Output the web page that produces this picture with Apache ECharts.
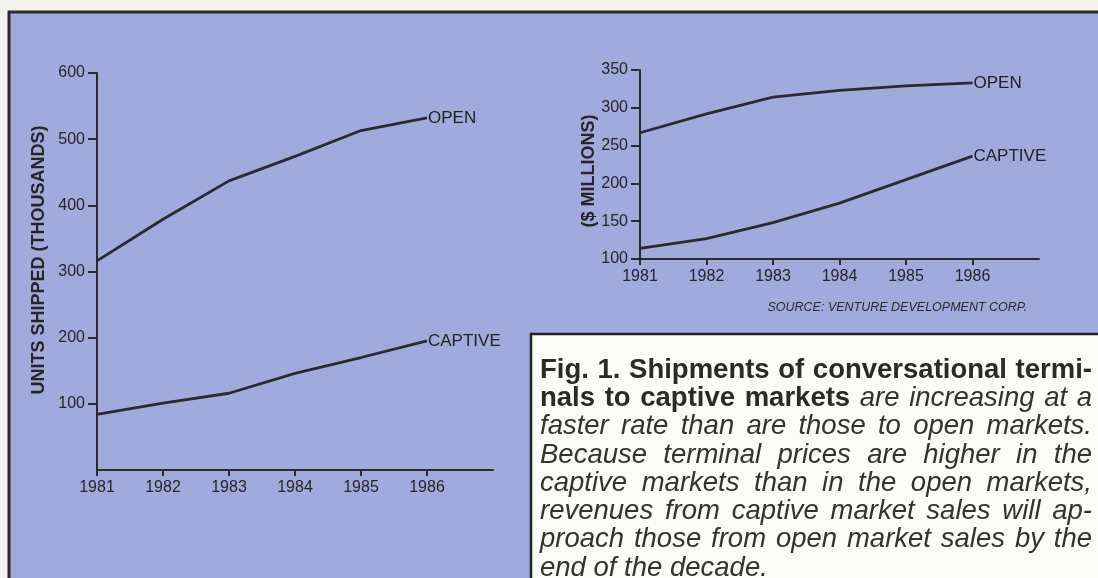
<!DOCTYPE html>
<html>
<head>
<meta charset="utf-8">
<title>Conversational terminals: shipments and revenues</title>
<script src="https://cdn.jsdelivr.net/npm/echarts@6/dist/echarts.min.js"></script>
<style>
  html, body { margin: 0; padding: 0; background: #f3f2ee; }
  #chart { width: 1098px; height: 578px; }
</style>
</head>
<body>
<div id="chart"></div>
<script>
// Years on both horizontal axes
const years = [1981, 1982, 1983, 1984, 1985, 1986];

// Units shipped (thousands)
const unitsOpen = [316, 379, 437, 474, 513, 532];
const unitsCaptive = [84, 101, 116, 146, 170, 195];

// Revenues ($ millions)
const revenueOpen = [267, 292, 314, 323, 329, 333];
const revenueCaptive = [114, 127, 148, 174, 205, 236];

// Tick values
const unitsTicks = [100, 200, 300, 400, 500, 600];
const revenueTicks = [100, 150, 200, 250, 300, 350];

const seriesNames = ['OPEN', 'CAPTIVE'];

const FONT = '"Liberation Sans", Arial, Helvetica, sans-serif';
const INK = '#2b2b2b';
const PANEL = '#a1aadc';

const pairs = (vals) => years.map((y, i) => [y, vals[i]]);

function xAxisFor(gridIndex) {
  return {
    type: 'value', gridIndex, min: 1981, max: 1987, interval: 1,
    axisLine: { lineStyle: { color: INK, width: 2 } },
    axisTick: { customValues: years, length: 6, lineStyle: { color: INK, width: 2 } },
    axisLabel: {
      customValues: years, formatter: (v) => String(v),
      color: '#262626', fontSize: 16, fontFamily: FONT, margin: 10
    },
    splitLine: { show: false }
  };
}

function yAxisFor(gridIndex, min, max, interval, ticks) {
  return {
    type: 'value', gridIndex, min, max, interval,
    axisLine: { show: true, lineStyle: { color: INK, width: 2 } },
    axisTick: { show: true, customValues: ticks, length: 9, lineStyle: { color: INK, width: 2 } },
    axisLabel: {
      customValues: ticks, formatter: (v) => String(v),
      color: '#262626', fontSize: 16, fontFamily: FONT, margin: 12
    },
    splitLine: { show: false }
  };
}

function lineSeries(name, vals, axisIndex) {
  return {
    type: 'line', name, xAxisIndex: axisIndex, yAxisIndex: axisIndex,
    data: pairs(vals), symbol: 'none', silent: true,
    lineStyle: { color: INK, width: 2.8 },
    endLabel: {
      show: true, formatter: name, distance: 1,
      color: '#222222', fontSize: 17, fontFamily: FONT
    }
  };
}

// Caption: justified paragraph laid out word by word
const captionLines = [
  [['b', 'Fig. 1. Shipments of conversational termi-']],
  [['b', 'nals to captive markets'], ['i', 'are increasing at a']],
  [['i', 'faster rate than are those to open markets.']],
  [['i', 'Because terminal prices are higher in the']],
  [['i', 'captive markets than in the open markets,']],
  [['i', 'revenues from captive market sales will ap-']],
  [['i', 'proach those from open market sales by the']],
  [['i', 'end of the decade.']]
];
const CAP_SIZE = 27.5;
const CAP_LEFT = 540, CAP_RIGHT = 1092, CAP_TOP = 370, CAP_LEAD = 28.3;

const measureCtx = document.createElement('canvas').getContext('2d');
function fontOf(kind) {
  return (kind === 'b' ? 'bold ' : 'italic ') + CAP_SIZE + 'px ' + FONT;
}
function textWidth(str, kind) {
  measureCtx.font = fontOf(kind);
  return measureCtx.measureText(str).width;
}

function captionElements() {
  const out = [];
  captionLines.forEach((segs, li) => {
    const words = [];
    segs.forEach(([kind, txt]) => txt.split(' ').forEach(w => words.push({ kind, w })));
    const widths = words.map(o => textWidth(o.w, o.kind));
    const total = widths.reduce((a, b) => a + b, 0);
    const last = li === captionLines.length - 1;
    const gap = last ? textWidth(' ', 'i') : (CAP_RIGHT - CAP_LEFT - total) / (words.length - 1);
    let x = CAP_LEFT;
    const y = CAP_TOP + li * CAP_LEAD;
    words.forEach((o, i) => {
      out.push({
        type: 'text', x, y, z: 20, silent: true,
        style: {
          text: o.w, fill: o.kind === 'b' ? '#2a2a2a' : '#333333',
          fontSize: CAP_SIZE, fontFamily: FONT,
          fontWeight: o.kind === 'b' ? 'bold' : 'normal',
          fontStyle: o.kind === 'b' ? 'normal' : 'italic',
          verticalAlign: 'middle', align: 'left'
        }
      });
      x += widths[i] + gap;
    });
  });
  return out;
}

const chart = echarts.init(document.getElementById('chart'), null, { renderer: 'canvas' });

chart.setOption({
  backgroundColor: '#f3f2ee',
  animation: false,
  grid: [
    { left: 97, top: 73, right: 605, bottom: 108 },
    { left: 640, top: 70, right: 59, bottom: 319 }
  ],
  xAxis: [xAxisFor(0), xAxisFor(1)],
  yAxis: [
    yAxisFor(0, 0, 600, 100, unitsTicks),
    yAxisFor(1, 100, 350, 50, revenueTicks)
  ],
  series: [
    lineSeries(seriesNames[0], unitsOpen, 0),
    lineSeries(seriesNames[1], unitsCaptive, 0),
    lineSeries(seriesNames[0], revenueOpen, 1),
    lineSeries(seriesNames[1], revenueCaptive, 1)
  ],
  graphic: [
    // tinted panel with dark frame
    {
      type: 'rect', z: -10, silent: true,
      shape: { x: 9, y: 12, width: 1100, height: 580 },
      style: { fill: PANEL, stroke: '#2c2c2c', lineWidth: 3 }
    },
    // axis titles
    {
      type: 'text', x: 39, y: 260, rotation: Math.PI / 2, silent: true,
      style: {
        text: 'UNITS SHIPPED (THOUSANDS)', fill: '#262626',
        fontSize: 18, fontWeight: 'bold', fontFamily: FONT,
        align: 'center', verticalAlign: 'middle'
      }
    },
    {
      type: 'text', x: 589, y: 171, rotation: Math.PI / 2, silent: true,
      style: {
        text: '($ MILLIONS)', fill: '#262626',
        fontSize: 18, fontWeight: 'bold', fontFamily: FONT,
        align: 'center', verticalAlign: 'middle'
      }
    },
    // source line
    {
      type: 'text', x: 1027, y: 308, silent: true,
      style: {
        text: 'SOURCE: VENTURE DEVELOPMENT CORP.', fill: '#2a2a2a',
        fontSize: 12.5, fontStyle: 'italic', fontFamily: FONT,
        align: 'right', verticalAlign: 'middle'
      }
    },
    // caption box
    {
      type: 'rect', z: 15, silent: true,
      shape: { x: 531, y: 334, width: 600, height: 300 },
      style: { fill: '#fbfbf8', stroke: '#222222', lineWidth: 2.5 }
    },
    ...captionElements()
  ]
});
</script>
</body>
</html>
